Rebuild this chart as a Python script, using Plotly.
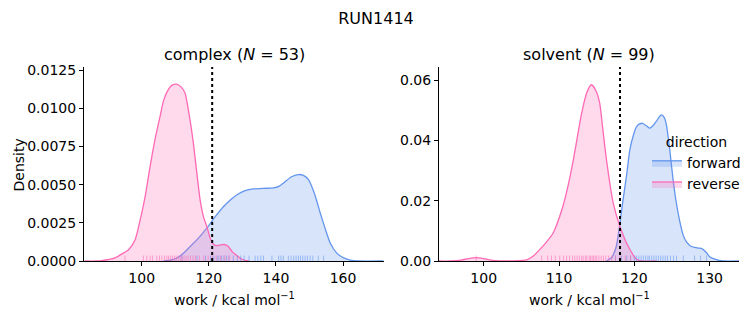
import plotly.graph_objects as go

# ---------------- data ----------------
# KDE curves (work in kcal/mol, density)
complex_fwd_x = [106.5, 108.5, 110.4, 112.4, 114.4, 116.9, 119.4, 121.9, 124.4, 126.4, 128.4, 130.8,
                 133.3, 136.3, 139.3, 141.0, 142.3, 144.5, 146.7, 148.2, 149.7, 151.5, 153.2, 154.7,
                 156.2, 158.2, 160.2, 162.2, 164.5, 172.0]
complex_fwd_y = [0.0, 0.00005, 0.00018, 0.0005, 0.00094, 0.0015, 0.00215, 0.0029, 0.00357, 0.0040,
                 0.00434, 0.0046, 0.00472, 0.00476, 0.00478, 0.0049, 0.00511, 0.0055, 0.00566, 0.0056,
                 0.00533, 0.0044, 0.00314, 0.0021, 0.00116, 0.0005, 0.0002, 0.00005, 0.0, 0.0]
complex_rev_x = [83.0, 86.5, 88.0, 92.0, 94.0, 96.0, 98.0, 100.0, 101.0, 102.5, 104.0, 105.5, 106.5,
                 108.0, 109.0, 110.4, 111.7, 112.9, 114.2, 115.4, 116.4, 117.4, 118.4, 119.4, 120.4,
                 121.4, 122.5, 123.5, 124.6, 125.8, 127.0, 128.4, 130.0, 132.0]
complex_rev_y = [0.0, 0.0, 0.00002, 0.0002, 0.00045, 0.00072, 0.00138, 0.00314, 0.0042, 0.0062, 0.0080,
                 0.0095, 0.0105, 0.01125, 0.0115, 0.01158, 0.0114, 0.0110, 0.0095, 0.0077, 0.0058,
                 0.0040, 0.0029, 0.00226, 0.0015, 0.0011, 0.0010, 0.00105, 0.00108, 0.00095, 0.0006,
                 0.00035, 0.0001, 0.0]

solvent_fwd_x = [116.3, 117.0, 117.6, 118.0, 118.5, 119.0, 119.4, 119.9, 120.3, 120.7, 121.1, 121.6,
                 122.0, 122.5, 122.9, 123.3, 123.6, 124.0, 124.3, 124.7, 125.1, 125.5, 126.0, 126.5,
                 126.9, 127.5, 128.0, 128.5, 128.9, 129.5, 130.0, 130.8, 131.8, 134.0]
solvent_fwd_y = [0.0, 0.0012, 0.0048, 0.011, 0.0203, 0.029, 0.0369, 0.042, 0.0446, 0.0455, 0.0457,
                 0.0449, 0.0441, 0.045, 0.0463, 0.0478, 0.0485, 0.0475, 0.0446, 0.037, 0.028, 0.0205,
                 0.0136, 0.0085, 0.0064, 0.0049, 0.0045, 0.0043, 0.0042, 0.003, 0.0014, 0.0005, 0.0, 0.0]
solvent_rev_x = [94.0, 95.5, 97.0, 98.0, 99.0, 100.0, 101.0, 102.1, 104.0, 105.7, 106.5, 107.4, 108.3,
                 109.2, 110.5, 111.2, 111.9, 113.0, 113.7, 114.3, 114.9, 115.4, 115.85, 116.3, 117.2,
                 118.1, 119.2, 120.3, 121.0, 123.0]
solvent_rev_y = [0.0, 0.0, 0.0003, 0.0008, 0.0011, 0.0008, 0.0003, 0.00005, 0.00005, 0.0004, 0.0015,
                 0.0037, 0.0062, 0.0092, 0.018, 0.025, 0.0336, 0.049, 0.056, 0.0585, 0.0565, 0.0524,
                 0.043, 0.0336, 0.0192, 0.0114, 0.0048, 0.0006, 0.0, 0.0]

# individual work values (rug)
complex_fwd_work = [112.0, 116.5, 119.0, 120.5, 121.5, 122.5, 123.0, 123.8, 124.5, 125.3, 126.0, 127.3,
                    128.5, 129.5, 130.5, 132.0, 133.8, 134.6, 135.5, 136.3, 138.8, 140.8, 141.5, 142.2,
                    143.7, 144.5, 145.3, 146.0, 146.7, 147.3, 148.0, 148.7, 149.4, 150.2, 151.0, 152.6,
                    154.2]
complex_rev_work = [95.0, 100.5, 101.5, 102.5, 103.2, 104.5, 105.3, 106.0, 106.8, 107.5, 108.0, 108.6,
                    109.2, 109.8, 110.3, 110.9, 111.5, 112.0, 112.6, 113.2, 113.8, 114.5, 115.3, 116.0,
                    117.2, 118.5, 119.8, 121.0, 122.2, 123.5, 124.8, 126.0]
solvent_fwd_work = [117.5, 118.3, 119.0, 119.5, 120.0, 120.3, 120.6, 120.9, 121.2, 121.5, 121.8, 122.0,
                    122.3, 122.6, 122.9, 123.2, 123.5, 123.8, 124.1, 124.4, 124.8, 125.2, 125.6, 126.5,
                    128.0, 128.8, 129.6]
solvent_rev_work = [99.0, 107.7, 108.5, 109.0, 109.5, 110.1, 110.6, 111.0, 111.4, 111.8, 112.1, 112.4,
                    112.7, 113.0, 113.2, 113.5, 113.7, 114.0, 114.2, 114.4, 114.6, 114.8, 115.0, 115.3,
                    115.6, 115.9, 116.2, 116.6, 117.0, 117.5, 118.1, 118.8, 119.5]

# vertical reference lines (free energy estimates)
complex_line = 121.0
solvent_line = 118.1

panel_titles = ["complex (<i>N</i> = 53)", "solvent (<i>N</i> = 99)"]
x_label = "work / kcal mol<sup>−1</sup>"
y_label = "Density"
complex_xticks = [100, 120, 140, 160]
solvent_xticks = [100, 110, 120, 130]
directions = ["forward", "reverse"]

# ---------------- styles ----------------
FWD = "rgb(100,149,237)"
REV = "rgb(255,105,180)"
FWD_FILL = "rgba(100,149,237,0.25)"
REV_FILL = "rgba(255,105,180,0.25)"
FWD_RUG = "rgba(100,149,237,0.55)"
REV_RUG = "rgba(255,105,180,0.55)"
FONT = "DejaVu Sans"
RUG_H = 0.028

fig = go.Figure()


def add_kde(x, y, xa, ya, color, fill, name, show):
    fig.add_trace(go.Scatter(x=x, y=y, xaxis=xa, yaxis=ya, mode="lines",
                             line=dict(color=color, width=1.3, shape="spline", smoothing=0.6),
                             fill="tozeroy", fillcolor=fill, name=name,
                             legendgroup=name, showlegend=show, hoverinfo="skip"))


def add_rug(vals, xa, ya, color):
    xs, ys = [], []
    for v in vals:
        xs += [v, v, None]
        ys += [0, RUG_H, None]
    fig.add_trace(go.Scatter(x=xs, y=ys, xaxis=xa, yaxis=ya, mode="lines",
                             line=dict(color=color, width=1), showlegend=False,
                             hoverinfo="skip"))


def add_vline(xv, xa, ya):
    fig.add_trace(go.Scatter(x=[xv, xv], y=[0, 1], xaxis=xa, yaxis=ya, mode="lines",
                             line=dict(color="black", width=2, dash="dot"),
                             showlegend=False, hoverinfo="skip"))


# complex panel
add_kde(complex_fwd_x, complex_fwd_y, "x", "y", FWD, FWD_FILL, directions[0], True)
add_kde(complex_rev_x, complex_rev_y, "x", "y", REV, REV_FILL, directions[1], True)
add_rug(complex_fwd_work, "x", "y3", FWD_RUG)
add_rug(complex_rev_work, "x", "y3", REV_RUG)
add_vline(complex_line, "x", "y3")

# solvent panel
add_kde(solvent_fwd_x, solvent_fwd_y, "x2", "y2", FWD, FWD_FILL, directions[0], False)
add_kde(solvent_rev_x, solvent_rev_y, "x2", "y2", REV, REV_FILL, directions[1], False)
add_rug(solvent_fwd_work, "x2", "y4", FWD_RUG)
add_rug(solvent_rev_work, "x2", "y4", REV_RUG)
add_vline(solvent_line, "x2", "y4")

axis_common = dict(showline=True, linecolor="black", linewidth=1, ticks="outside",
                   ticklen=4, tickwidth=1, tickcolor="black", showgrid=False, zeroline=False,
                   automargin=False,
                   tickfont=dict(family=FONT, size=14, color="black"))

# the page body has an 8px margin: size the figure so it fits the window exactly
OFF = 8
W, H = 753 - OFF, 325 - OFF
ml, mr, mt, mb = 84 - OFF, 14, 67 - OFF, 64
pw = W - ml - mr
ph = H - mt - mb
left_dom = [0, 300 / pw]
right_dom = [(439 - 84) / pw, 1]


def px_x(px):  # px in window coordinates
    return (px - OFF - ml) / pw


def px_y(py):
    return 1 - (py - OFF - mt) / ph


fig.update_layout(
    width=W, height=H,
    margin=dict(l=ml, r=mr, t=mt, b=mb, autoexpand=False),
    paper_bgcolor="white", plot_bgcolor="rgba(0,0,0,0)",
    font=dict(family=FONT, color="black", size=14),
    title=dict(text="RUN1414", x=(376 - OFF) / W, xref="container", xanchor="center",
               y=0.986, yref="container", yanchor="top", pad=dict(t=0, b=0),
               font=dict(family=FONT, size=16, color="black")),
    xaxis=dict(domain=left_dom, range=[82.8, 172.2], tickvals=complex_xticks,
               anchor="y", **axis_common),
    yaxis=dict(domain=[0, 1], range=[0, 0.0127], dtick=0.0025, tickformat=".4f",
               anchor="x", **axis_common),
    xaxis2=dict(domain=right_dom, range=[94.06, 133.9], tickvals=solvent_xticks,
                anchor="y2", **axis_common),
    yaxis2=dict(domain=[0, 1], range=[0, 0.0644], dtick=0.02, tickformat=".2f",
                anchor="x2", **axis_common),
    yaxis3=dict(overlaying="y", range=[0, 1], visible=False, anchor="x"),
    yaxis4=dict(overlaying="y2", range=[0, 1], visible=False, anchor="x2"),
    legend=dict(x=px_x(647), xref="paper", xanchor="left",
                y=px_y(129), yanchor="top",
                bgcolor="rgba(0,0,0,0)", borderwidth=0,
                title=dict(text="direction", side="top center",
                           font=dict(family=FONT, size=14, color="black")),
                font=dict(family=FONT, size=14, color="black"),
                tracegroupgap=0, itemwidth=30),
    annotations=[
        dict(text=panel_titles[0], x=sum(left_dom) / 2, xref="paper", y=px_y(54),
             yref="paper", xanchor="center", yanchor="middle", showarrow=False,
             font=dict(family=FONT, size=16, color="black")),
        dict(text=panel_titles[1], x=sum(right_dom) / 2, xref="paper", y=px_y(54),
             yref="paper", xanchor="center", yanchor="middle", showarrow=False,
             font=dict(family=FONT, size=16, color="black")),
        dict(text=x_label, x=sum(left_dom) / 2, xref="paper", y=px_y(299),
             yref="paper", xanchor="center", yanchor="middle", showarrow=False,
             font=dict(family=FONT, size=14, color="black")),
        dict(text=x_label, x=sum(right_dom) / 2, xref="paper", y=px_y(299),
             yref="paper", xanchor="center", yanchor="middle", showarrow=False,
             font=dict(family=FONT, size=14, color="black")),
        dict(text=y_label, x=px_x(OFF + 0.5), xref="paper", y=px_y(165),
             yref="paper", xanchor="left", yanchor="middle", showarrow=False,
             textangle=-90, font=dict(family=FONT, size=14, color="black")),
    ],
)

fig.write_html("out.html")
